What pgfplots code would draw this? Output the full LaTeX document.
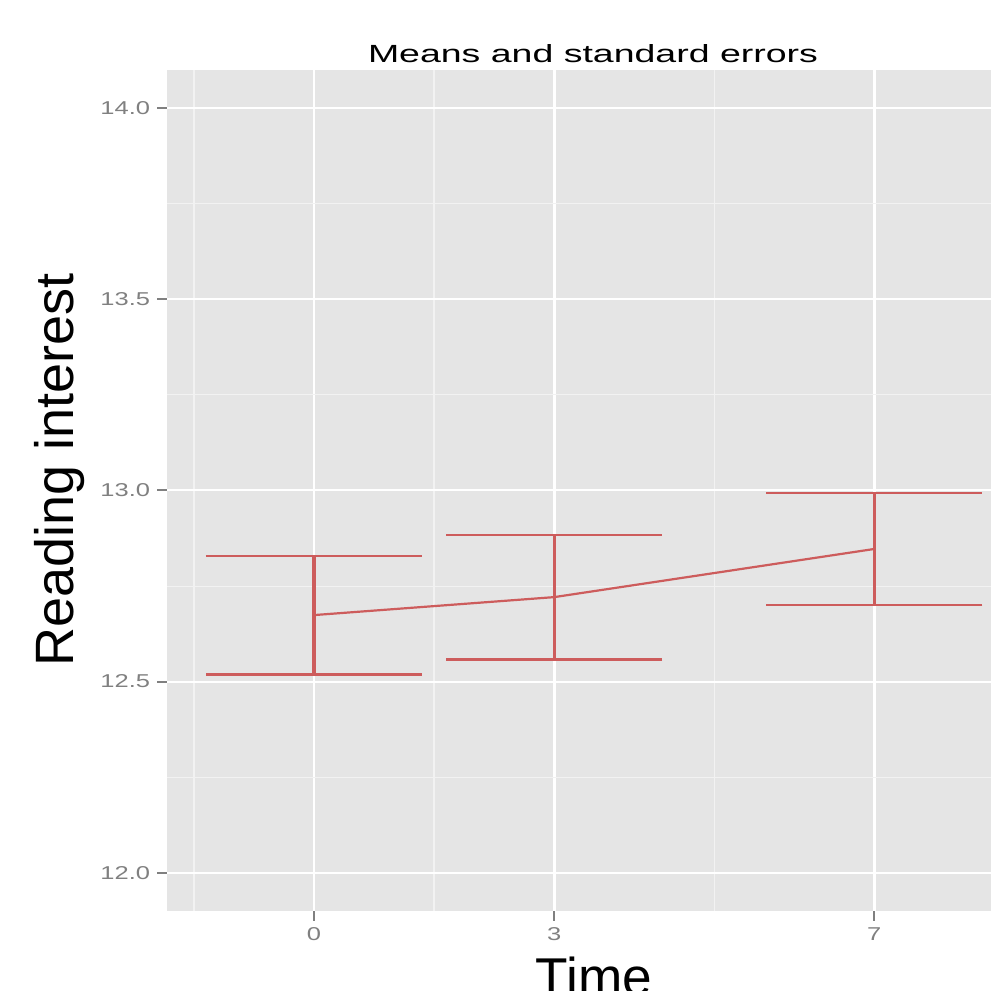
\documentclass[border=0pt]{standalone}
\usepackage{pgfplots}
\pgfplotsset{compat=1.18}
\usepackage{fontspec}
\setmainfont{Liberation Sans}
\newfontfamily\tickfont{Liberation Sans}[FakeStretch=1.37]

\definecolor{panelgrey}{gray}{0.898}
\definecolor{minorgrey}{gray}{0.949}
\definecolor{ticktext}{gray}{0.5}
\definecolor{linered}{RGB}{205,92,92}

\begin{document}
\begin{tikzpicture}
% page = 991 px, 1 px = 0.5pt
\useasboundingbox (0,0) rectangle (495.5pt,495.5pt);

\begin{axis}[
    at={(83.55pt,40.05pt)}, anchor=south west,
    scale only axis, width=427.05pt, height=420.4pt,
    xmin=-1.835, xmax=8.835, ymin=11.9, ymax=14.1,
    axis background/.style={fill=panelgrey},
    axis line style={draw=none},
    tick pos=left, tick align=outside,
    major tick length=5pt,
    tick style={ticktext, line width=1pt},
    xtick={0,3,7}, ytick={12,12.5,13,13.5,14},
    minor xtick={-1.5,1.5,5}, minor ytick={12.25,12.75,13.25,13.75},
    minor tick length=0pt,
    grid=both,
    major x grid style={white, line width=1.4pt},
    major y grid style={white, line width=1pt},
    minor x grid style={minorgrey, line width=0.7pt},
    minor y grid style={minorgrey, line width=0.5pt},
    /pgf/number format/assume math mode=true,
    yticklabel style={/pgf/number format/.cd, fixed, fixed zerofill, precision=1},
    ticklabel style={font=\tickfont\fontsize{9.3}{10}\selectfont, text=ticktext},
  ]
  \addplot[linered, line width=1.1pt, mark=none,
    error bars/.cd, y dir=both, y explicit,
    error bar style={linered, line width=1.6pt},
    error mark=|,
    error mark options={linered, mark size=54pt, line width=1.25pt}]
  coordinates {
    (0,12.674) +- (0,0.155)
    (3,12.721) +- (0,0.163)
    (7,12.847) +- (0,0.146)
  };
\end{axis}

\node[anchor=base, inner sep=0pt] at (296.5pt,464.35pt)
  {\resizebox{225pt}{9pt}{Means and standard errors}};
\node[rotate=90, anchor=base, inner sep=0pt] at (36.5pt,260.5pt)
  {\fontsize{27}{30}\selectfont Reading interest};
\node[anchor=base, inner sep=0pt] at (297pt,-2.45pt)
  {\fontsize{26.6}{30}\selectfont Time};
\end{tikzpicture}
\end{document}
